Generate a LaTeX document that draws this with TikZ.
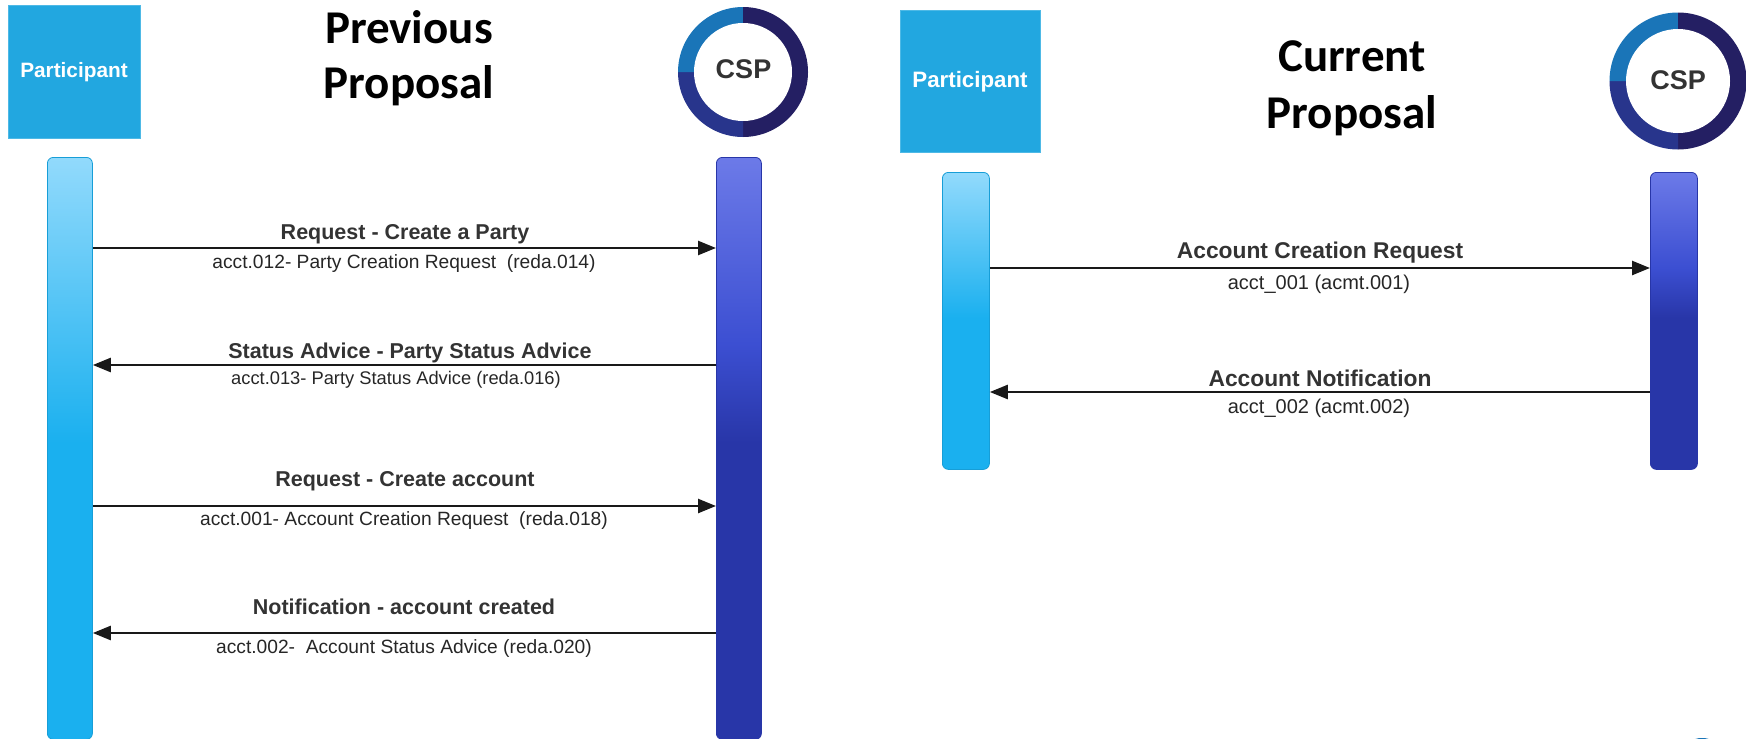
\documentclass[tikz,border=0pt]{standalone}
\usepackage{fontspec}
\setmainfont{Liberation Sans}
\newfontfamily\titlefont{Carlito}
\usetikzlibrary{arrows.meta}
\definecolor{boxblue}{HTML}{22A7E0}
\definecolor{qtl}{HTML}{1A75B8}
\definecolor{qtr}{HTML}{241F63}
\definecolor{qbl}{HTML}{28358C}
\definecolor{qbr}{HTML}{241F63}
\definecolor{lblue}{HTML}{333333}
\definecolor{ltop}{HTML}{92DAFC}
\definecolor{lbot}{HTML}{1AB0EF}
\definecolor{rtop}{HTML}{6C7AE8}
\definecolor{rmid}{HTML}{3C4FD2}
\definecolor{rbot}{HTML}{2836A8}
\pgfdeclareverticalshading{lshade}{100bp}{color(0bp)=(lbot); color(50.5bp)=(lbot); color(75bp)=(ltop); color(100bp)=(ltop)}
\pgfdeclareverticalshading{rshade}{100bp}{color(0bp)=(rbot); color(50.5bp)=(rbot); color(59bp)=(rmid); color(75bp)=(rtop); color(100bp)=(rtop)}
\tikzset{
  actorbox/.style={fill=boxblue,draw=boxblue!80!white,line width=.8pt,anchor=north west,inner sep=0pt},
  actortext/.style={text=white,inner sep=0pt},
  cspring/.style={circle,fill=white,inner sep=0pt},
  csptext/.style={inner sep=0pt,text=black!80},
  lifeL/.style={rounded corners=6pt,shading=lshade,draw=lbot!90!black,line width=.8pt,anchor=north west,inner sep=0pt,minimum width=45pt},
  lifeR/.style={rounded corners=6pt,shading=rshade,draw=rbot,line width=.8pt,anchor=north west,inner sep=0pt,minimum width=45pt},
  titletext/.style={align=center,text=black},
  headlbl/.style={text=lblue,inner sep=0pt,font=\fontsize{21.5}{24}\selectfont\bfseries},
  sublbl/.style={text=black!85,inner sep=0pt,font=\fontsize{19.2}{22}\selectfont},
  headlblb/.style={text=lblue,inner sep=0pt,font=\fontsize{22.8}{26}\selectfont\bfseries},
  sublblb/.style={text=black!85,inner sep=0pt,font=\fontsize{20}{24}\selectfont},
  msg/.style={line width=2.5pt,draw=black!90,-{Triangle[length=18pt,width=14pt]}},
}
\newcommand{\ringat}[2]{%
  \fill[qbr] (#1) -- ++(0:#2) arc[start angle=0,end angle=90,radius=#2] -- cycle;
  \fill[qbl] (#1) -- ++(90:#2) arc[start angle=90,end angle=180,radius=#2] -- cycle;
  \fill[qtl] (#1) -- ++(180:#2) arc[start angle=180,end angle=270,radius=#2] -- cycle;
  \fill[qtr] (#1) -- ++(270:#2) arc[start angle=270,end angle=360,radius=#2] -- cycle;
}
\begin{document}
\begin{tikzpicture}[x=1pt,y=-1pt]
\useasboundingbox (0,0) rectangle (1746,739);
% left panel
\node[actorbox,minimum width=132pt,minimum height=133pt] (pa) at (8,5) {};
\node[actortext,font=\fontsize{20.8}{23}\selectfont\bfseries] (patext) at (74,72) {Participant};
\node[titletext,font=\fontsize{47}{55.5}\selectfont\titlefont\bfseries] (t1) at (409,58) {Previous\\Proposal};
\coordinate (c1) at (743,72);
\ringat{c1}{65}
\node[cspring,minimum size=98pt] (csp1) at (c1) {};
\node[csptext,font=\fontsize{27}{30}\selectfont\bfseries] (csp1t) at (743.5,69) {CSP};
\node[lifeL,minimum height=582pt] (l1) at (47,157) {};
\node[lifeR,minimum height=582pt] (r1) at (716,157) {};
\coordinate (y1) at (0,248);
\coordinate (y2) at (0,365);
\coordinate (y3) at (0,506);
\coordinate (y4) at (0,633);
\draw[msg] (l1.east |- y1) -- (r1.west |- y1);
\draw[msg] (r1.west |- y2) -- (l1.east |- y2);
\draw[msg] (l1.east |- y3) -- (r1.west |- y3);
\draw[msg] (r1.west |- y4) -- (l1.east |- y4);
\node[headlbl] (h1) at (405,234) {Request - Create a Party};
\node[sublbl] (s1) at (404,264) {acct.012- Party Creation Request\ \ (reda.014)};
\node[headlbl] (h2) at (410,353) {Status Advice - Party Status Advice};
\node[sublbl,font=\fontsize{18.3}{22}\selectfont] (s2) at (396,380) {acct.013- Party Status Advice (reda.016)};
\node[headlbl] (h3) at (405,481) {Request - Create account};
\node[sublbl] (s3) at (404,521) {acct.001- Account Creation Request\ \ (reda.018)};
\node[headlbl] (h4) at (404,607) {Notification - account created};
\node[sublbl] (s4) at (404,649) {acct.002-\ \ Account Status Advice (reda.020)};
% right panel
\node[actorbox,minimum width=140pt,minimum height=142pt] (pb) at (900,10) {};
\node[actortext,font=\fontsize{22.3}{25}\selectfont\bfseries] (pbtext) at (970,82) {Participant};
\node[titletext,font=\fontsize{47}{57}\selectfont\titlefont\bfseries] (t2) at (1352,88) {Current\\Proposal};
\coordinate (c2) at (1678,81);
\ringat{c2}{68.5}
\node[cspring,minimum size=104pt] (csp2) at (c2) {};
\node[csptext,font=\fontsize{27}{30}\selectfont\bfseries] (csp2t) at (1678,80) {CSP};
\node[lifeL,minimum width=47pt,minimum height=297pt] (l2) at (942,172) {};
\node[lifeR,minimum width=47pt,minimum height=297pt] (r2) at (1650,172) {};
\coordinate (y5) at (0,268);
\coordinate (y6) at (0,392);
\draw[msg] (l2.east |- y5) -- (r2.west |- y5);
\draw[msg] (r2.west |- y6) -- (l2.east |- y6);
\node[headlblb] (h5) at (1320,253) {Account Creation Request};
\node[sublblb] (s5) at (1319,284) {acct\_001 (acmt.001)};
\node[headlblb] (h6) at (1320,378) {Account Notification};
\node[sublblb] (s6) at (1319,408) {acct\_002 (acmt.002)};
\fill[qtl] (1702,741) ellipse [x radius=9,y radius=3];
\end{tikzpicture}
\end{document}
